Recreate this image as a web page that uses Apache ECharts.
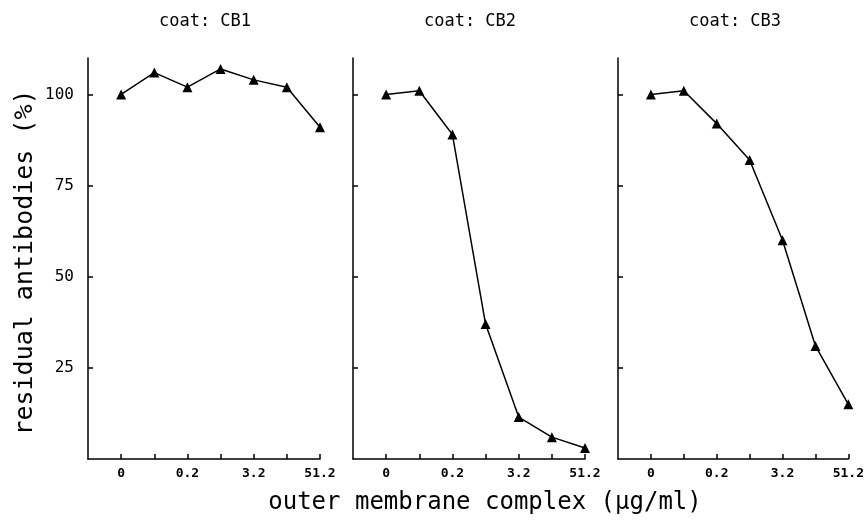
<!DOCTYPE html>
<html>
<head>
<meta charset="utf-8">
<script src="https://cdn.jsdelivr.net/npm/echarts@6/dist/echarts.min.js"></script>
<style>
  html, body { margin: 0; padding: 0; background: #fff; }
  #chart { width: 867px; height: 522px; }
</style>
</head>
<body>
<div id="chart"></div>
<script>
  /*** data ***/
  var concentrations = ['0', '0.05', '0.2', '0.8', '3.2', '12.8', '51.2'];  // µg/ml, 4-fold steps
  var xTickLabels = ['0', '', '0.2', '', '3.2', '', '51.2'];
  var yTickValues = [25, 50, 75, 100];
  var panelTitles = ['coat: CB1', 'coat: CB2', 'coat: CB3'];
  var cb1Values = [100, 106, 102, 107, 104, 102, 91];
  var cb2Values = [100, 101, 89, 37, 11.5, 6, 3];
  var cb3Values = [100, 101, 92, 82, 60, 31, 15];
  var panelValues = [cb1Values, cb2Values, cb3Values];

  var monoFont = '"DejaVu Sans Mono", "Liberation Mono", monospace';
  var gridLefts = [88, 353, 618];   // panel positions
  var gridWidth = 232;

  var grids = [], xAxes = [], yAxes = [], series = [], titles = [];

  for (var i = 0; i < panelValues.length; i++) {
    grids.push({ left: gridLefts[i], top: 58, width: gridWidth, height: 401 });

    xAxes.push({
      gridIndex: i,
      type: 'value',
      min: -1,
      max: concentrations.length - 1,
      interval: 1,
      splitLine: { show: false },
      axisLine: { onZero: false, lineStyle: { color: '#000', width: 1.5 } },
      axisTick: { inside: true, length: 5, lineStyle: { color: '#000', width: 1.5 },
                  customValues: [0, 1, 2, 3, 4, 5, 6] },
      axisLabel: {
        customValues: [0, 2, 4, 6],
        margin: 8,
        color: '#000',
        fontFamily: monoFont,
        fontWeight: 'bold',
        fontSize: 13,
        formatter: function (v) { return xTickLabels[v] || ''; }
      }
    });

    yAxes.push({
      gridIndex: i,
      type: 'value',
      min: 0,
      max: 110,
      interval: 25,
      splitLine: { show: false },
      axisLine: { show: true, onZero: false, lineStyle: { color: '#000', width: 1.5 } },
      axisTick: { show: true, inside: true, length: 5, lineStyle: { color: '#000', width: 1.5 },
                  customValues: yTickValues },
      axisLabel: {
        show: i === 0,
        customValues: yTickValues,
        margin: 14,
        color: '#000',
        fontFamily: monoFont,
        fontSize: 16
      },
      name: i === 0 ? 'residual antibodies (%)' : '',
      nameLocation: 'middle',
      nameGap: 50,
      //右侧padding让竖排标题稍微下移
      nameTextStyle: { color: '#000', fontFamily: monoFont, fontSize: 25, padding: [0, 8, 0, 0] }
    });

    var pts = [];
    for (var j = 0; j < panelValues[i].length; j++) pts.push([j, panelValues[i][j]]);

    series.push({
      type: 'line',
      xAxisIndex: i,
      yAxisIndex: i,
      data: pts,
      symbol: 'triangle',
      symbolSize: 10,
      lineStyle: { color: '#000', width: 1.5 },
      itemStyle: { color: '#000' },
      animation: false
    });

    titles.push({
      text: panelTitles[i],
      left: gridLefts[i] + gridWidth / 2 - 4,
      textAlign: 'center',
      top: 8,
      textStyle: { color: '#000', fontFamily: monoFont, fontSize: 17, fontWeight: 'normal' }
    });
  }

  titles.push({
    text: 'outer membrane complex (µg/ml)',
    left: 480,
    textAlign: 'center',
    top: 486,
    textStyle: { color: '#000', fontFamily: monoFont, fontSize: 24, fontWeight: 'normal' }
  });

  var myChart = echarts.init(document.getElementById('chart'));
  myChart.setOption({
    backgroundColor: '#fff',
    animation: false,
    title: titles,
    grid: grids,
    xAxis: xAxes,
    yAxis: yAxes,
    series: series
  });
</script>
</body>
</html>
